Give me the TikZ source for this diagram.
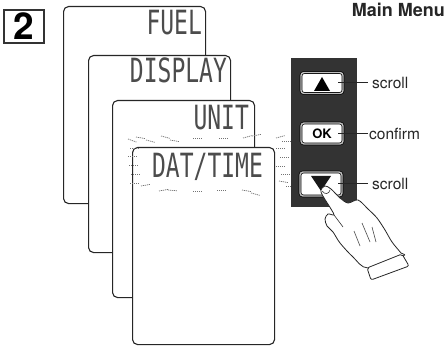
\documentclass[tikz,border=0pt]{standalone}
\usepackage{fontspec}
\setsansfont{TeX Gyre Heros}
\newfontfamily\lcdfont{DejaVu Sans Mono}
\usetikzlibrary{positioning}

% tall, narrow display lettering
\newcommand\lcdword[1]{\scalebox{1}[1.45]{#1}}

\tikzset{
    card/.style={draw=black!85, line width=1.1pt, fill=white, rounded corners=5pt,
        minimum width=142pt, minimum height=197pt, inner sep=0pt, anchor=north west},
    lcd/.style={font=\lcdfont\fontsize{23}{23}\selectfont, text=black!70,
        inner sep=0pt, anchor=base east},
    key/.style={draw=black, line width=0.7pt, double=black!25, double distance=1.4pt,
        fill=white, rounded corners=3pt, minimum width=42pt, minimum height=21pt, inner sep=0pt},
    tag/.style={font=\sffamily\fontsize{15.5}{16}\selectfont, text=black!85,
        inner sep=0pt, anchor=west},
    leader/.style={line width=1pt, black!85},
    spark/.style={black!55, line width=0.7pt, dash pattern=on 1.2pt off 0.8pt}
}

\begin{document}
\begin{tikzpicture}[x=1pt, y=-1pt]
    \useasboundingbox (0,0) rectangle (446,347);

    % step number and title
    \node[draw=black!80, line width=1.2pt, minimum width=40pt, minimum height=33pt, inner sep=0pt,
          font=\sffamily\bfseries\fontsize{37}{37}\selectfont] (step) at (24,26.5) {2};
    \node[font=\sffamily\bfseries\fontsize{18}{18}\selectfont, text=black!85,
          anchor=base east, inner sep=0pt] (title) at (445,17) {Main Menu};

    % stacked menu screens
    \node[card] (fuel) at (63,6) {};
    \node[lcd] (fueltxt) at ([xshift=-4pt, yshift=-29pt]fuel.north east) {\lcdword{FUEL}};
    \node[card] (display) at (88,55) {};
    \node[lcd] (disptxt) at ([xshift=-4pt, yshift=-28pt]display.north east) {\lcdword{DISPLAY}};
    \node[card] (unit) at (112,100) {};
    \node[lcd] (unittxt) at ([xshift=-6pt, yshift=-30pt]unit.north east) {\lcdword{UNIT}};
    \node[card] (datetime) at (132,147) {};
    \node[lcd] (datetxt) at ([xshift=-12pt, yshift=-31pt]datetime.north east) {\lcdword{DAT/TIME}};

    % blinking marks round the active entry
    \foreach \x/\y/\a in {128/139/-20, 136/137/-10, 146/140/-15, 161/136/-15, 170/140/-10,
        193/138/0, 219/138/0, 243/138/15, 252/136/10,
        130/148/0, 128/156/0, 129/165/0, 131/174/0, 130/183/0, 141/186/10,
        159/191/10, 168/190/-5, 193/191/0, 217/190/0, 242/190/-10, 251/193/-15,
        276/138/15, 282/141/0, 276/148/0, 280/157/0, 276/166/0, 281/174/0, 279/181/-10, 286/186/0}
        \draw[spark] (\x,\y) -- ++(\a:9pt);

    % keypad
    \node[fill=black!80, minimum width=66pt, minimum height=149pt, inner sep=0pt,
          anchor=north west] (pad) at (291,58) {};
    \node[key] (up) at (322,83) {};
    \fill[black] ([yshift=6pt]up.center) -- ++(8pt,-14pt) -- ++(-16pt,0pt) -- cycle;
    \node[key, font=\sffamily\bfseries\fontsize{13}{13}\selectfont] (ok) at (322,133.5) {OK};
    \node[key, minimum height=24pt] (down) at (321,184) {};
    \fill[black!90] ([xshift=-10pt, yshift=8pt]down.center) -- ++(20pt,0pt) -- ++(-10pt,-15pt) -- cycle;

    % labels
    \node[tag] (scrollup) at (372,83) {scroll};
    \node[tag] (confirm) at (369,133.5) {confirm};
    \node[tag] (scrolldown) at (372,184) {scroll};
    \draw[leader] ([xshift=-5pt]up.east) -- ([xshift=-4pt]scrollup.west);
    \draw[leader] ([xshift=-5pt]ok.east) -- ([xshift=-1pt]confirm.west);
    \draw[leader] ([xshift=-4pt]down.east) -- ([xshift=-4pt]scrolldown.west);

    % pressing hand
    \filldraw[fill=white, draw=black!85, line width=0.8pt, line join=round]
        plot[smooth cycle, tension=0.5] coordinates {
            (325,186) (331,189) (340,198) (348,203) (358,200) (368,209) (377,218)
            (385,230) (392,242) (401,253) (403,256) (368,268) (353,257) (340,243)
            (333,232) (327,226) (325,219) (328,214) (334,215) (331,209) (321,192)};
    \filldraw[fill=white, draw=black!85, line width=0.8pt, rounded corners=2pt]
        (367,268) -- (402,254) -- (409,266) -- (371,280) -- cycle;
    \draw[black!80, line width=0.6pt] (322,191) .. controls (325,195) and (329,194) .. (330,190);
    \draw[black!80, line width=0.6pt] (334,215) .. controls (338,221) .. (343,227);
    \draw[black!70, line width=0.6pt] (362,223) -- (370,242);
    \draw[black!70, line width=0.6pt] (372,227) -- (376,242);
    \draw[black!70, line width=0.6pt] (354,231) -- (360,246);
\end{tikzpicture}
\end{document}
